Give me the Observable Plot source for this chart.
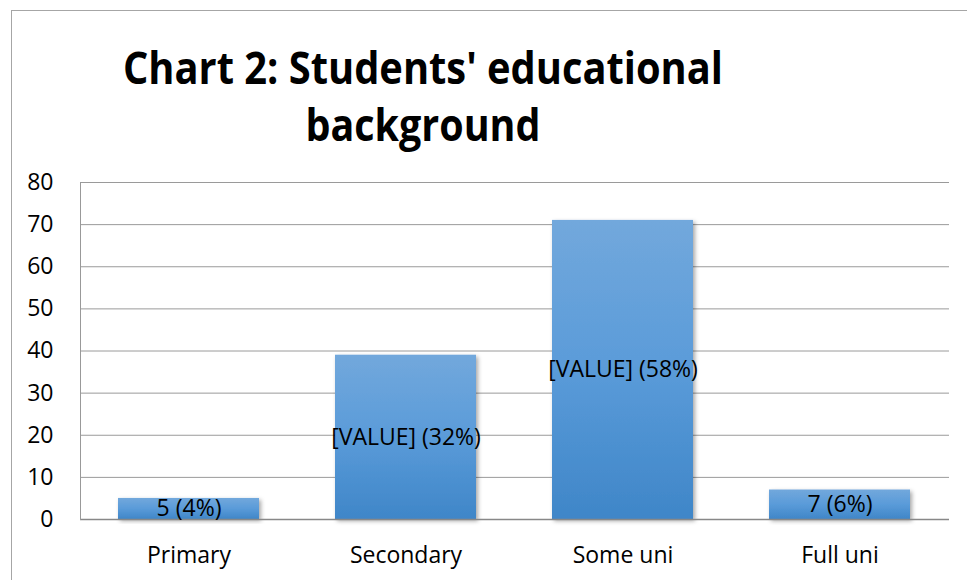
<!DOCTYPE html>
<html>
<head>
<meta charset="utf-8">
<script src="https://cdn.jsdelivr.net/npm/d3@7"></script>
<script src="https://cdn.jsdelivr.net/npm/@observablehq/plot@0.6"></script>
<style>
  html, body { margin: 0; padding: 0; background: #fff; }
  #wrap { position: relative; width: 967px; height: 580px; overflow: hidden; }
  #border { position: absolute; left: 11px; top: 10px; width: 980px; height: 600px;
            border-left: 1px solid #a6a6a6; border-top: 1px solid #a6a6a6; }
  #chart { position: absolute; left: 0; top: 0; }
</style>
</head>
<body>
<div id="wrap"><div id="border"></div><div id="chart"></div></div>
<script>
const categories = ["Primary", "Secondary", "Some uni", "Full uni"];
const values = [5, 39, 71, 7];
const labels = ["5 (4%)", "[VALUE] (32%)", "[VALUE] (58%)", "7 (6%)"];
const yTicks = [0, 10, 20, 30, 40, 50, 60, 70, 80];
const titleLines = ["Chart 2: Students' educational", "background"];

const data = categories.map((c, i) => ({category: c, value: values[i], label: labels[i]}));
const font = "'Open Sans', 'Noto Sans', sans-serif";
const fs = 23;

const plot = Plot.plot({
  width: 967,
  height: 580,
  marginTop: 182,
  marginLeft: 80,
  marginRight: 18,
  marginBottom: 61,
  style: {fontFamily: font, fontSize: fs + "px", color: "#000", background: "transparent"},
  x: {domain: categories, paddingInner: 0.35, paddingOuter: 0.175, label: null},
  y: {domain: [0, 80], ticks: yTicks, label: null},
  marks: [
    Plot.gridY(yTicks, {stroke: "#9a9a9a", strokeOpacity: 1, strokeWidth: 1}),
    Plot.axisY({ticks: yTicks, tickSize: 0, tickPadding: 27, label: null, fontSize: fs}),
    Plot.axisX({tickSize: 0, tickPadding: 27, label: null, fontSize: fs}),
    Plot.barY(data, {x: "category", y: "value", fill: "url(#barGrad)", className: "bars"}),
    Plot.ruleY([0], {stroke: "#888", strokeWidth: 1.5}),
    Plot.frame({anchor: "left", stroke: "#999", strokeWidth: 1}),
    Plot.text(data, {x: "category", y: d => d.value / 2, text: "label", fill: "#000", fontSize: fs}),
    Plot.text([titleLines[0]], {frameAnchor: "top", lineAnchor: "middle", dx: -92, dy: -113, fontSize: 44, fontWeight: "bold", fill: "#000", className: "title1"}),
    Plot.text([titleLines[1]], {frameAnchor: "top", lineAnchor: "middle", dx: -92, dy: -56, fontSize: 44, fontWeight: "bold", fill: "#000", className: "title2"})
  ]
});

const svg = d3.select(plot);
const defs = svg.insert("defs", ":first-child");
const g = defs.append("linearGradient").attr("id", "barGrad").attr("x1", 0).attr("y1", 0).attr("x2", 0).attr("y2", 1);
g.append("stop").attr("offset", "0%").attr("stop-color", "#72a8dc");
g.append("stop").attr("offset", "50%").attr("stop-color", "#5a9bd9");
g.append("stop").attr("offset", "100%").attr("stop-color", "#3f86c8");
const f = defs.append("filter").attr("id", "barShadow").attr("x", "-10%").attr("y", "-10%").attr("width", "130%").attr("height", "130%");
f.append("feDropShadow").attr("dx", 2).attr("dy", 2).attr("stdDeviation", 2).attr("flood-color", "#000").attr("flood-opacity", 0.35);
svg.selectAll(".bars rect").attr("filter", "url(#barShadow)");
svg.selectAll(".title1 text").attr("textLength", 600).attr("lengthAdjust", "spacingAndGlyphs");
svg.selectAll(".title2 text").attr("textLength", 235).attr("lengthAdjust", "spacingAndGlyphs");

document.getElementById("chart").appendChild(plot);
</script>
</body>
</html>
